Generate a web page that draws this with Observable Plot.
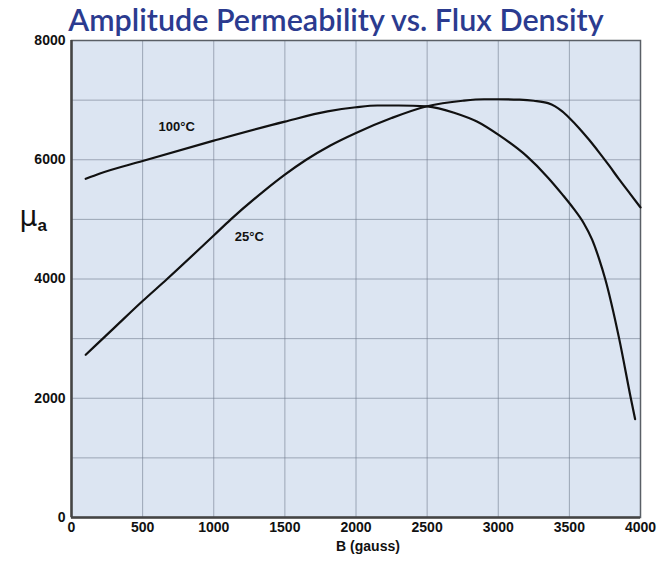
<!DOCTYPE html>
<html>
<head>
<meta charset="utf-8">
<script src="https://cdn.jsdelivr.net/npm/d3@7"></script>
<script src="https://cdn.jsdelivr.net/npm/@observablehq/plot@0.6"></script>
<style>
  html, body { margin: 0; padding: 0; background: #fff; }
</style>
</head>
<body>
<div id="chart"></div>
<script>
const title = "Amplitude Permeability vs. Flux Density";
const xLabel = "B (gauss)";
const yLabelMain = "μ";
const yLabelSub = "a";

const xTicks = [0, 500, 1000, 1500, 2000, 2500, 3000, 3500, 4000];
const yTicks = [0, 2000, 4000, 6000, 8000];
const yGrid = [1000, 2000, 3000, 4000, 5000, 6000, 7000];
const xGrid = [500, 1000, 1500, 2000, 2500, 3000, 3500];

const series = ["100°C", "25°C"];

const b100 = [100, 200, 500, 1000, 1500, 1800, 2000, 2150, 2300, 2500, 2700, 2850, 3000, 3200, 3350, 3450, 3530, 3600, 3660, 3710, 3752, 3850, 3932, 3962];
const mu100 = [5680, 5770, 5980, 6320, 6640, 6810, 6880, 6910, 6910, 6895, 6780, 6640, 6420, 6060, 5700, 5420, 5180, 4940, 4660, 4330, 4000, 3000, 2000, 1650];

const b25 = [100, 300, 500, 672, 1000, 1120, 1350, 1500, 1650, 1820, 2000, 2250, 2500, 2750, 2900, 3000, 3150, 3250, 3350, 3400, 3450, 3500, 3570, 3640, 3710, 3780, 3850, 3930, 4000];
const mu25 = [2730, 3180, 3630, 4000, 4730, 5000, 5470, 5750, 6000, 6240, 6450, 6700, 6898, 6990, 7015, 7015, 7008, 6990, 6950, 6895, 6810, 6700, 6525, 6330, 6120, 5900, 5670, 5420, 5200];

const labelB = [740, 1250];
const labelMu = [6550, 4700];

const data = [
  ...b100.map((b, i) => ({series: series[0], b, mu: mu100[i]})),
  ...b25.map((b, i) => ({series: series[1], b, mu: mu25[i]}))
];
const labels = series.map((s, i) => ({text: s, b: labelB[i], mu: labelMu[i]}));

const chart = Plot.plot({
  width: 657,
  height: 561,
  marginTop: 40,
  marginBottom: 44,
  marginLeft: 71,
  marginRight: 17,
  style: {background: "#fff", fontFamily: "'Liberation Sans', Arial, sans-serif", fontWeight: "bold", fontSize: "14px", color: "#111"},
  x: {domain: [0, 4000], label: null},
  y: {domain: [0, 8000], label: null},
  marks: [
    Plot.frame({fill: "#dce5f2"}),
    Plot.gridX(xGrid, {stroke: "#6f7a8c", strokeOpacity: 0.6, strokeWidth: 1}),
    Plot.gridY(yGrid, {stroke: "#6f7a8c", strokeOpacity: 0.6, strokeWidth: 1}),
    Plot.frame({stroke: "#5a5f66", strokeWidth: 1.5}),
    Plot.ruleX([0], {stroke: "#444", strokeWidth: 2.5}),
    Plot.ruleY([0], {stroke: "#444", strokeWidth: 2.5}),
    Plot.axisX(xTicks, {tickSize: 0, tickPadding: 5, fontSize: 14, fontWeight: "bold", tickFormat: d3.format("d"), label: null}),
    Plot.axisY(yTicks, {tickSize: 0, tickPadding: 6, fontSize: 14, fontWeight: "bold", tickFormat: d3.format("d"), label: null}),
    Plot.line(data, {x: "b", y: "mu", z: "series", curve: "monotone-x", stroke: "#111", strokeWidth: 2.2}),
    Plot.text(labels, {x: "b", y: "mu", text: "text", fontSize: 13, fontWeight: "bold", fill: "#111"}),
    Plot.text([xLabel], {frameAnchor: "bottom", dy: 33, dx: 12, fontSize: 14, fontWeight: "bold", fill: "#111"}),
    Plot.text([yLabelMain], {frameAnchor: "left", dx: -52, dy: -62, fontSize: 28, fontWeight: "normal", fontFamily: "'DejaVu Sans', sans-serif", fill: "#111"}),
    Plot.text([yLabelSub], {frameAnchor: "left", dx: -34, dy: -53, fontSize: 17, fontWeight: "bold", fill: "#111"}),
    Plot.text([title], {frameAnchor: "top", dx: -20, dy: -10, lineAnchor: "bottom", fontSize: 30.5, fontWeight: 600, fontFamily: "Lato, 'Open Sans', sans-serif", fill: "#2b3b8f"})
  ]
});
document.getElementById("chart").append(chart);
</script>
</body>
</html>
